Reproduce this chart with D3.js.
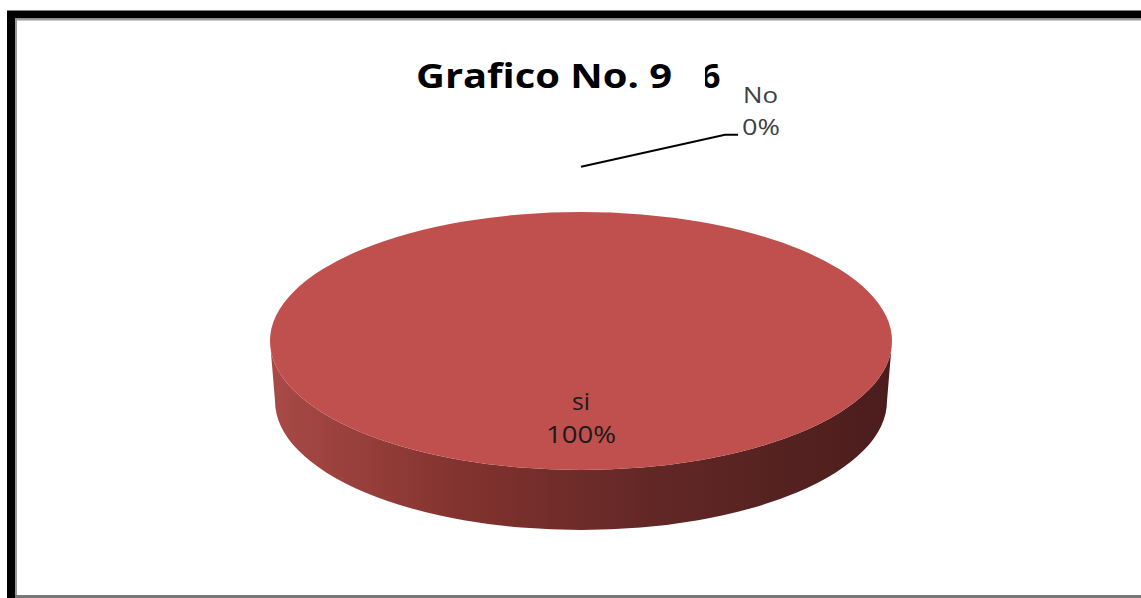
<!doctype html>
<html>
<head>
    <meta charset="utf-8">
    <script src="https://d3js.org/d3.v7.min.js"></script>
</head>
<style>
    body { margin: 0; background: #fff; }
    svg text { font-family: "Open Sans", Lato, sans-serif; font-variant-ligatures: none; }
</style>
<body>
    <div id="pie-chart"></div>
    <script>
        // chart data
        var categories = ["si", "No"];
        var values = [100, 0];
        var labels = ["100%", "0%"];
        var title = "Grafico No. 9";

        var width = 1141,
            height = 598;

        // 3d pie geometry
        var cx = 581, cy = 341,
            rx = 311, ry = 129,
            depth = 60,
            rxBottom = 306;

        var svg = d3.select("#pie-chart")
                    .append("svg")
                    .attr("width", width)
                    .attr("height", height);

        // frame
        svg.append("rect").attr("x", 0).attr("y", 0).attr("width", width).attr("height", height).attr("fill", "#fff");
        svg.append("path").attr("d", "M11,598 V14.5 H1141").attr("fill", "none").attr("stroke", "#000").attr("stroke-width", 8);
        svg.append("path").attr("d", "M16,598 V19.5 H1141").attr("fill", "none").attr("stroke", "#999").attr("stroke-width", 2);
        svg.append("path").attr("d", "M15,596.5 H1141").attr("stroke", "#777").attr("stroke-width", 3);

        var defs = svg.append("defs");
        var grad = defs.append("linearGradient")
                       .attr("id", "side-grad")
                       .attr("gradientUnits", "userSpaceOnUse")
                       .attr("x1", cx - rx).attr("x2", cx + rx)
                       .attr("y1", 0).attr("y2", 0);
        grad.append("stop").attr("offset", "0%").attr("stop-color", "#a94a46");
        grad.append("stop").attr("offset", "30%").attr("stop-color", "#83332f");
        grad.append("stop").attr("offset", "60%").attr("stop-color", "#632826");
        grad.append("stop").attr("offset", "100%").attr("stop-color", "#4a1d1c");

        var colors = d3.scaleOrdinal().domain(categories).range(["#c0504d", "#4f81bd"]);

        var pie = d3.pie().sort(null).value(function(d, i) { return values[i]; });
        var arcs = pie(categories);

        function pt(a, rX, rY, dy) {
            return [cx + rX * Math.sin(a), cy + (dy || 0) - rY * Math.cos(a)];
        }

        function topPath(d) {
            var span = d.endAngle - d.startAngle;
            if (span <= 0) return "";
            if (span >= 2 * Math.PI - 1e-6) {
                return "M" + (cx - rx) + "," + cy +
                       "A" + rx + "," + ry + " 0 1,1 " + (cx + rx) + "," + cy +
                       "A" + rx + "," + ry + " 0 1,1 " + (cx - rx) + "," + cy + "Z";
            }
            var p0 = pt(d.startAngle, rx, ry), p1 = pt(d.endAngle, rx, ry);
            return "M" + cx + "," + cy + "L" + p0 + "A" + rx + "," + ry + " 0 " + (span > Math.PI ? 1 : 0) + ",1 " + p1 + "Z";
        }

        // visible front wall for angles between PI/2 and 3PI/2
        function sidePath(d) {
            var a0 = Math.max(d.startAngle, Math.PI / 2),
                a1 = Math.min(d.endAngle, 3 * Math.PI / 2);
            if (a1 <= a0) return "";
            var t0 = pt(a0, rx, ry), t1 = pt(a1, rx, ry),
                b0 = pt(a0, rxBottom, ry, depth), b1 = pt(a1, rxBottom, ry, depth);
            return "M" + t0 + "A" + rx + "," + ry + " 0 0,1 " + t1 +
                   "L" + b1 + "A" + rxBottom + "," + ry + " 0 0,0 " + b0 + "Z";
        }

        svg.selectAll("path.side")
           .data(arcs)
           .enter()
           .append("path")
           .attr("class", "side")
           .attr("d", sidePath)
           .attr("fill", "url(#side-grad)");

        svg.selectAll("path.top")
           .data(arcs)
           .enter()
           .append("path")
           .attr("class", "top")
           .attr("d", topPath)
           .attr("fill", function(d) { return colors(d.data); });

        // data labels
        arcs.forEach(function(d, i) {
            var span = d.endAngle - d.startAngle;
            if (span > 0) {
                var mid = (d.startAngle + d.endAngle) / 2;
                var c = span >= 2 * Math.PI - 1e-6 ? [cx, cy + 69] : pt(mid, rx * 0.6, ry * 0.6);
                svg.append("text")
                   .attr("x", c[0]).attr("y", c[1])
                   .attr("text-anchor", "middle")
                   .attr("font-size", "23px")
                   .attr("fill", "#1a1a1a")
                   .attr("textLength", 18)
                   .attr("lengthAdjust", "spacingAndGlyphs")
                   .text(categories[i]);
                svg.append("text")
                   .attr("x", c[0]).attr("y", c[1] + 33)
                   .attr("text-anchor", "middle")
                   .attr("font-size", "23px")
                   .attr("fill", "#1a1a1a")
                   .attr("textLength", 70)
                   .attr("lengthAdjust", "spacingAndGlyphs")
                   .text(labels[i]);
            } else {
                // zero slice: leader line to outside label
                var s = pt(d.startAngle, rx, ry * 1.35);
                var e = [s[0] + 144, s[1] - 32];
                svg.append("path")
                   .attr("d", "M" + s + "L" + e + "H" + (e[0] + 13))
                   .attr("fill", "none")
                   .attr("stroke", "#000")
                   .attr("stroke-width", 2);
                svg.append("text")
                   .attr("x", e[0] + 18).attr("y", e[1] - 32)
                   .attr("font-size", "21px")
                   .attr("fill", "#404040")
                   .attr("textLength", 35)
                   .attr("lengthAdjust", "spacingAndGlyphs")
                   .text(categories[i]);
                svg.append("text")
                   .attr("x", e[0] + 17).attr("y", e[1])
                   .attr("font-size", "21px")
                   .attr("fill", "#404040")
                   .attr("textLength", 38)
                   .attr("lengthAdjust", "spacingAndGlyphs")
                   .text(labels[i]);
            }
        });

        // title (last digit partly hidden behind label box)
        svg.append("text")
           .attr("x", 416).attr("y", 88)
           .attr("font-size", "34px")
           .attr("font-weight", "bold")
           .attr("fill", "#000")
           .attr("textLength", 256)
           .attr("lengthAdjust", "spacingAndGlyphs")
           .text(title);
        defs.append("clipPath").attr("id", "clip6")
            .append("rect").attr("x", 705).attr("y", 40).attr("width", 40).attr("height", 60);
        svg.append("text")
           .attr("x", 701).attr("y", 88)
           .attr("font-size", "34px")
           .attr("font-weight", "bold")
           .attr("fill", "#000")
           .attr("clip-path", "url(#clip6)")
           .text("6");
    </script>
</body>
</html>
